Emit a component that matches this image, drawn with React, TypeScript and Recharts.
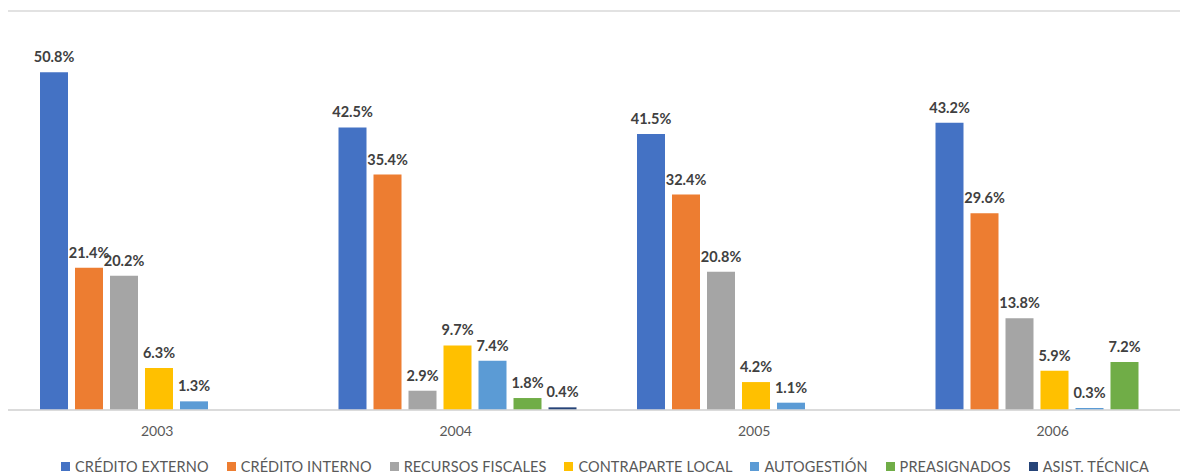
import React from "react";
import { BarChart, Bar, XAxis, YAxis, CartesianGrid, Legend, LabelList } from "recharts";

const years = ["2003", "2004", "2005", "2006"];

const creditoExterno = [50.8, 42.5, 41.5, 43.2];
const creditoInterno = [21.4, 35.4, 32.4, 29.6];
const recursosFiscales = [20.2, 2.9, 20.8, 13.8];
const contraparteLocal = [6.3, 9.7, 4.2, 5.9];
const autogestion = [1.3, 7.4, 1.1, 0.3];
const preasignados = [null, 1.8, null, 7.2];
const asistTecnica = [null, 0.4, null, null];

const SERIES = [
  { key: "ext", name: "CRÉDITO EXTERNO", color: "#4472C4", values: creditoExterno },
  { key: "int", name: "CRÉDITO INTERNO", color: "#ED7D31", values: creditoInterno },
  { key: "fis", name: "RECURSOS FISCALES", color: "#A5A5A5", values: recursosFiscales },
  { key: "loc", name: "CONTRAPARTE LOCAL", color: "#FFC000", values: contraparteLocal },
  { key: "aut", name: "AUTOGESTIÓN", color: "#5B9BD5", values: autogestion },
  { key: "pre", name: "PREASIGNADOS", color: "#70AD47", values: preasignados },
  { key: "asi", name: "ASIST. TÉCNICA", color: "#264478", values: asistTecnica },
];

const yTicks = [0, 10, 20, 30, 40, 50, 60];

const data = years.map((year, i) => {
  const row: Record<string, string | number | null> = { year };
  SERIES.forEach((s) => {
    row[s.key] = s.values[i];
  });
  return row;
});

const FONT = "Lato, 'Open Sans', sans-serif";

function fmt(v: unknown) {
  if (v === null || v === undefined) return "";
  return `${Number(v).toFixed(1)}%`;
}

function LegendRow() {
  return (
    <div style={{ display: "flex", justifyContent: "center", alignItems: "center", height: 20 }}>
      {SERIES.map((s, i) => (
        <div
          key={s.key}
          style={{ display: "flex", alignItems: "center", marginRight: i === SERIES.length - 1 ? 0 : 18 }}
        >
          <span style={{ width: 9, height: 9, background: s.color, display: "inline-block", marginRight: 5 }} />
          <span style={{ fontSize: 14.5, color: "#595959", fontFamily: FONT, letterSpacing: 0.1 }}>{s.name}</span>
        </div>
      ))}
    </div>
  );
}

// plot runs a bit past the right edge of the window in the original, so clip it
export default function App() {
  return (
    <div style={{ width: 1180, height: 466, overflow: "hidden", fontFamily: FONT }}>
      <BarChart
        width={1194}
        height={468}
        data={data}
        margin={{ top: 3, right: 0, bottom: 0, left: 0 }}
        barCategoryGap={32}
        barGap={7}
      >
        <CartesianGrid vertical={false} stroke="#d9d9d9" strokeWidth={1.3} />
        <XAxis
          dataKey="year"
          axisLine={{ stroke: "#d9d9d9", strokeWidth: 1.3 }}
          tickLine={false}
          tickMargin={10}
          height={46}
          tick={{ fontSize: 14, fill: "#595959", fontFamily: FONT }}
        />
        <YAxis domain={[0, 60]} ticks={yTicks} width={0} axisLine={false} tickLine={false} tick={false} />
        <Legend verticalAlign="bottom" height={20} content={() => <LegendRow />} />
        {SERIES.map((s) => (
          <Bar key={s.key} dataKey={s.key} name={s.name} fill={s.color} isAnimationActive={false}>
            <LabelList
              dataKey={s.key}
              position="top"
              offset={10}
              formatter={fmt}
              style={{ fontSize: 14.5, fontWeight: 700, fill: "#404040", fontFamily: FONT }}
            />
          </Bar>
        ))}
      </BarChart>
    </div>
  );
}
